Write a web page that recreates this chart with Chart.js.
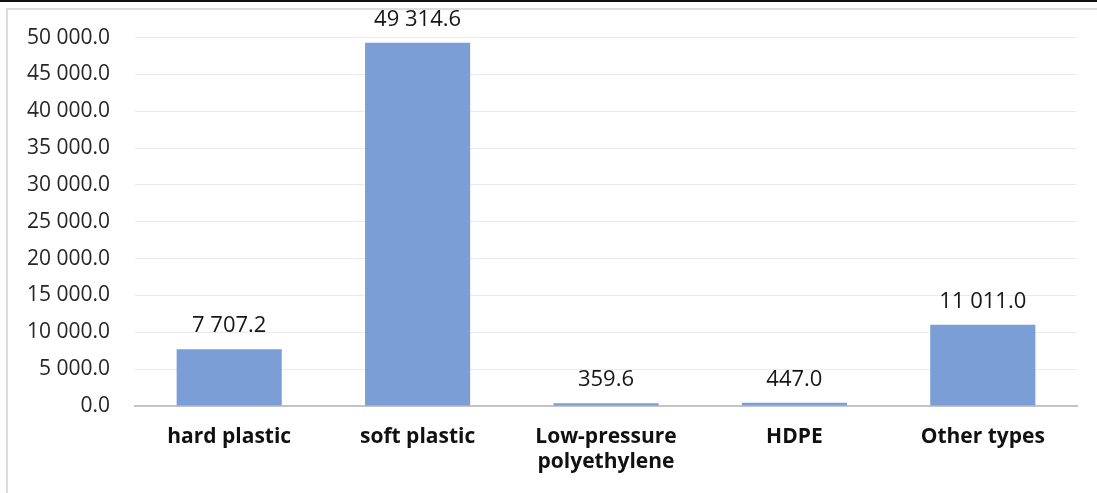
<!DOCTYPE html>
<html>
<head>
<meta charset="utf-8">
<script src="https://cdn.jsdelivr.net/npm/chart.js@4.4.1/dist/chart.umd.min.js"></script>
<style>
  html, body { margin: 0; padding: 0; background: #fff; }
  body { width: 1097px; height: 493px; position: relative; overflow: hidden; }
  #topline { position: absolute; left: 0; top: 0; width: 1097px; height: 2px; background: #111; }
  #frame { position: absolute; left: 6px; top: 8px; width: 1100px; height: 500px; border: 2px solid #dcdcdc; box-sizing: border-box; }
  #wrap { position: absolute; left: 0; top: 0; width: 1097px; height: 493px; }
</style>
</head>
<body>
<div id="topline"></div>
<div id="frame"></div>
<div id="wrap"><canvas id="chart" width="1097" height="493"></canvas></div>
<script>
const categories = ["hard plastic", "soft plastic", ["Low-pressure", "polyethylene"], "HDPE", "Other types"];
const values = [7707.2, 49314.6, 359.6, 447.0, 11011.0];
const yTicks = [0, 5000, 10000, 15000, 20000, 25000, 30000, 35000, 40000, 45000, 50000];

const FONT = "'Open Sans', 'Noto Sans', sans-serif";

function fmt(v) {
  const [int, dec] = v.toFixed(1).split(".");
  return int.replace(/\B(?=(\d{3})+(?!\d))/g, " ") + "." + dec;
}

const valueLabels = {
  id: "valueLabels",
  afterDatasetsDraw(chart) {
    const ctx = chart.ctx;
    const meta = chart.getDatasetMeta(0);
    ctx.save();
    ctx.font = "22px " + FONT;
    ctx.fillStyle = "#161616";
    ctx.textAlign = "center";
    ctx.textBaseline = "alphabetic";
    meta.data.forEach((bar, i) => {
      ctx.fillText(fmt(values[i]), bar.x, bar.y - 17);
    });
    ctx.restore();
  },
};

new Chart(document.getElementById("chart"), {
  type: "bar",
  data: {
    labels: categories,
    datasets: [
      {
        data: values,
        backgroundColor: "#7b9ed6",
        barPercentage: 0.62,
        categoryPercentage: 0.9,
      },
    ],
  },
  options: {
    responsive: false,
    animation: false,
    layout: { padding: { top: 24, right: 20, left: 0, bottom: 0 } },
    plugins: {
      legend: { display: false },
      tooltip: { enabled: false },
    },
    scales: {
      x: {
        grid: { display: false, drawTicks: false },
        border: { color: "#c4c4c4", width: 2 },
        ticks: { color: "#111", font: { family: FONT, size: 21, weight: "bold", lineHeight: 1.2 }, padding: 18, maxRotation: 0 },
        afterFit(axis) { axis.height = 87; },
      },
      y: {
        min: 0,
        max: 50000,
        afterBuildTicks(axis) { axis.ticks = yTicks.map((v) => ({ value: v })); },
        grid: { color: "#ebebeb", lineWidth: 1, drawTicks: false },
        border: { display: false },
        ticks: { color: "#262626", font: { family: FONT, size: 21 }, padding: 25, callback: (v) => fmt(v) },
        afterFit(axis) { axis.width = 135; },
      },
    },
  },
  plugins: [valueLabels],
});
</script>
</body>
</html>
